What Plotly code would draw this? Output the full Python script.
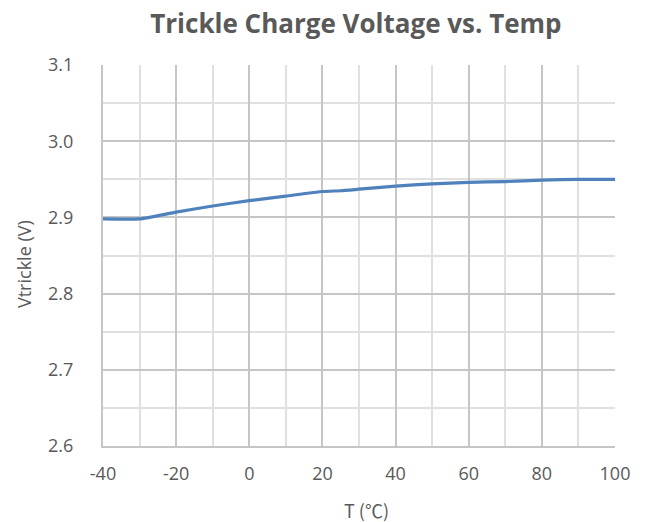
import plotly.graph_objects as go

# Trickle charge voltage measured across temperature
temp_c = [-40, -30, -20, -10, 0, 10, 20, 25, 30, 40, 50, 60, 70, 80, 90, 100]
v_trickle = [2.898, 2.898, 2.907, 2.915, 2.922, 2.928, 2.934, 2.935, 2.937,
             2.941, 2.944, 2.946, 2.947, 2.949, 2.950, 2.950]

x_ticks = [-40, -20, 0, 20, 40, 60, 80, 100]
y_ticks = [2.6, 2.7, 2.8, 2.9, 3.0, 3.1]

FONT = "Open Sans"
CJK_FONT = "Noto Sans CJK SC"
TEXT_GRAY = "#595959"
MAJOR_GRID = "#C6C6C6"
MINOR_GRID = "#E0E0E0"

fig = go.Figure()
fig.add_trace(go.Scatter(
    x=temp_c, y=v_trickle, mode="lines",
    line=dict(color="#4F81BD", width=3.2, shape="spline", smoothing=0.5),
    hoverinfo="x+y", showlegend=False,
))

fig.update_layout(
    width=646, height=522,
    margin=dict(l=103, r=31, t=65, b=76),
    paper_bgcolor="white", plot_bgcolor="white",
    title=dict(text="<b>Trickle Charge Voltage vs. Temp</b>",
               font=dict(family=FONT, size=26, color=TEXT_GRAY),
               x=0.494, xanchor="center", xref="paper",
               y=0.955, yanchor="middle"),
    font=dict(family=FONT, color=TEXT_GRAY),
    annotations=[
        dict(text="T (℃)", xref="paper", yref="paper", x=0.514, y=-0.168,
             xanchor="center", yanchor="middle", showarrow=False,
             font=dict(family=CJK_FONT, size=18, color=TEXT_GRAY)),
        dict(text="Vtrickle (V)", xref="paper", yref="paper", x=-0.154, y=0.478,
             xanchor="center", yanchor="middle", showarrow=False, textangle=-90,
             font=dict(family=FONT, size=18, color=TEXT_GRAY)),
    ],
)

fig.update_xaxes(
    range=[-40, 100], tickvals=x_ticks, ticktext=[str(v) for v in x_ticks],
    tickfont=dict(size=18, color=TEXT_GRAY), ticks="", ticklabelstandoff=10,
    showgrid=True, gridcolor=MAJOR_GRID, gridwidth=2,
    minor=dict(dtick=10, tick0=-40, showgrid=True, gridcolor=MINOR_GRID, gridwidth=2, ticks=""),
    showline=True, linecolor=MAJOR_GRID, linewidth=2, mirror=False, zeroline=False,
)

fig.update_yaxes(
    range=[2.6, 3.1], tickvals=y_ticks, ticktext=[f"{v:.1f}" for v in y_ticks],
    tickfont=dict(size=18, color=TEXT_GRAY), ticks="", ticklabelstandoff=24,
    showgrid=True, gridcolor=MAJOR_GRID, gridwidth=2,
    minor=dict(dtick=0.05, tick0=2.6, showgrid=True, gridcolor=MINOR_GRID, gridwidth=2, ticks=""),
    showline=True, linecolor=MAJOR_GRID, linewidth=2, zeroline=False,
)

fig.write_html("out.html")
